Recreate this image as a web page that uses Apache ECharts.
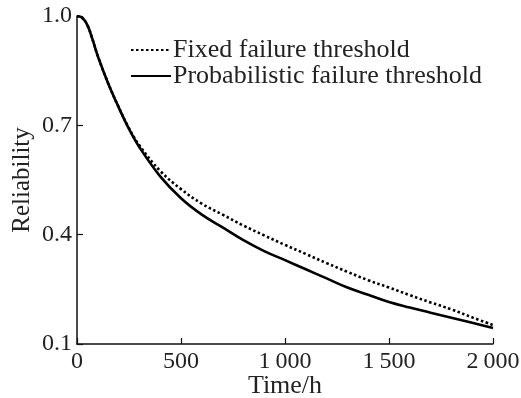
<!DOCTYPE html>
<html>
<head>
<meta charset="utf-8">
<script src="https://cdn.jsdelivr.net/npm/echarts@6/dist/echarts.min.js"></script>
<style>
  html, body { margin: 0; padding: 0; background: #fff; }
  #chart { width: 521px; height: 398px; }
</style>
</head>
<body>
<div id="chart"></div>
<script>
// time points (h)
const times = [0, 25, 50, 75, 100, 150, 200, 250, 300, 400, 500, 600, 700, 800, 900, 1000,
  1100, 1200, 1300, 1400, 1500, 1600, 1700, 1800, 1900, 2000];
// reliability, fixed failure threshold (dotted)
const fixedR = [1.0, 0.995, 0.975, 0.935, 0.89, 0.815, 0.75, 0.692, 0.645, 0.575, 0.525, 0.485,
  0.455, 0.425, 0.398, 0.372, 0.347, 0.322, 0.298, 0.275, 0.255, 0.234, 0.214, 0.195, 0.173, 0.152];
// reliability, probabilistic failure threshold (solid)
const probR = [1.0, 0.995, 0.975, 0.935, 0.89, 0.815, 0.75, 0.69, 0.64, 0.56, 0.50, 0.455,
  0.42, 0.385, 0.355, 0.33, 0.305, 0.28, 0.255, 0.235, 0.215, 0.20, 0.186, 0.172, 0.158, 0.144];
const yTicks = [0.1, 0.4, 0.7, 1.0];
const xTickLabels = {0: '0', 500: '500', 1000: '1\u2009000', 1500: '1\u2009500', 2000: '2\u2009000'};

const font = 'Liberation Serif';
const chart = echarts.init(document.getElementById('chart'));
chart.setOption({
  animation: false,
  grid: { left: 77, right: 28, top: 16, bottom: 54, outerBoundsMode: 'none', containLabel: false },
  legend: {
    left: 130, top: 37, orient: 'vertical', itemGap: 0, padding: 0,
    itemWidth: 40, itemHeight: 14,
    itemStyle: { opacity: 0 },
    textStyle: { fontFamily: font, fontSize: 26, color: '#222', padding: [0, 0, 0, -3] },
    data: ['Fixed failure threshold', 'Probabilistic failure threshold']
  },
  xAxis: {
    type: 'value', min: 0, max: 2000, interval: 500,
    name: 'Time/h', nameLocation: 'middle', nameGap: 29, nameMoveOverlap: false,
    nameTextStyle: { fontFamily: font, fontSize: 26, color: '#222' },
    axisLine: { lineStyle: { color: '#111', width: 1.5 } },
    axisTick: { inside: true, length: 6, lineStyle: { color: '#111', width: 1.2 } },
    axisLabel: { fontFamily: font, fontSize: 24, color: '#222', margin: 6,
      formatter: v => xTickLabels[v] },
    splitLine: { show: false }
  },
  yAxis: {
    type: 'value', min: 0.1, max: 1.0,
    name: 'Reliability', nameLocation: 'middle', nameGap: 42, nameMoveOverlap: false,
    nameTextStyle: { fontFamily: font, fontSize: 25, color: '#222' },
    axisLine: { show: true, lineStyle: { color: '#111', width: 1.5 } },
    axisTick: { show: true, inside: true, length: 6, customValues: yTicks,
      lineStyle: { color: '#111', width: 1.2 } },
    axisLabel: { fontFamily: font, fontSize: 24, color: '#222', margin: 5,
      customValues: yTicks, formatter: v => v.toFixed(1) },
    splitLine: { show: false }
  },
  series: [
    {
      name: 'Fixed failure threshold', type: 'line', smooth: 0.4, symbol: 'none',
      data: times.map((t, i) => [t, fixedR[i]]),
      lineStyle: { color: '#000', width: 2.6, type: [2.5, 2.5] },
      itemStyle: { color: '#000' }
    },
    {
      name: 'Probabilistic failure threshold', type: 'line', smooth: 0.4, symbol: 'none',
      data: times.map((t, i) => [t, probR[i]]),
      lineStyle: { color: '#000', width: 2.6 },
      itemStyle: { color: '#000' }
    }
  ]
});
</script>
</body>
</html>
